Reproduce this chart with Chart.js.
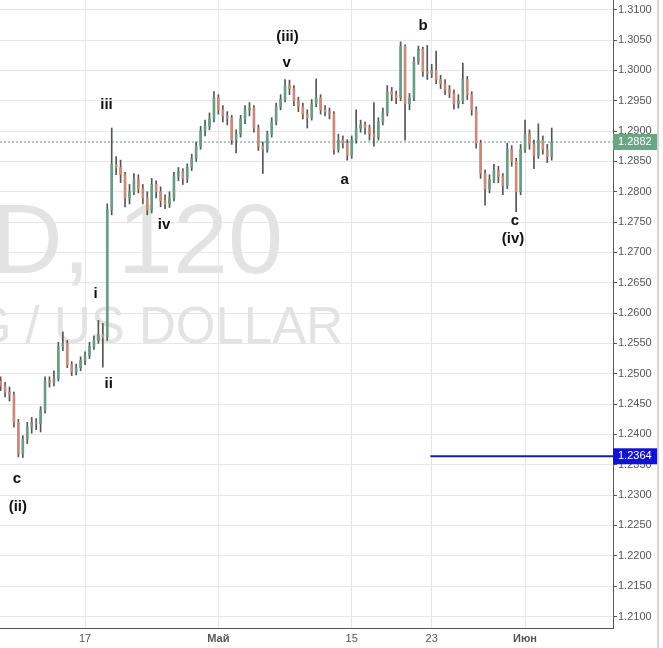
<!DOCTYPE html>
<html>
<head>
<meta charset="utf-8">
<script src="https://cdn.jsdelivr.net/npm/chart.js@4.4.1/dist/chart.umd.min.js"></script>
<style>
  html, body { margin: 0; padding: 0; background: #fff; }
</style>
</head>
<body>
<canvas id="chart" width="663" height="648"></canvas>
<script>
// GBPUSD, 8h candles; x is counted in trading days from 17 Apr
const firstDay = -6.33;
const barsPerDay = 3;
const firstOpen = 1.2488;

const close = [
  1.2480, 1.2470, 1.2465, 1.2420, 1.2368, 1.2392, 1.2412, 1.2420, 1.2418, 1.2440,
  1.2488, 1.2486, 1.2492, 1.2545, 1.2550, 1.2515, 1.2503, 1.2510, 1.2522, 1.2530,
  1.2545, 1.2555, 1.2565, 1.2560, 1.2770, 1.2845, 1.2840, 1.2828, 1.2790, 1.2800,
  1.2820, 1.2805, 1.2790, 1.2770, 1.2812, 1.2800, 1.2785, 1.2780, 1.2790, 1.2825,
  1.2833, 1.2822, 1.2840, 1.2855, 1.2875, 1.2900, 1.2908, 1.2920, 1.2955, 1.2935,
  1.2925, 1.2922, 1.2885, 1.2895, 1.2920, 1.2935, 1.2938, 1.2905, 1.2875, 1.2870,
  1.2895, 1.2915, 1.2940, 1.2952, 1.2975, 1.2970, 1.2950, 1.2940, 1.2928, 1.2922,
  1.2945, 1.2955, 1.2935, 1.2932, 1.2928, 1.2870, 1.2885, 1.2880, 1.2860, 1.2885,
  1.2905, 1.2910, 1.2905, 1.2895, 1.2890, 1.2915, 1.2930, 1.2965, 1.2960, 1.2955,
  1.3040, 1.2945, 1.2955, 1.3015, 1.3035, 1.2998, 1.2995, 1.3000, 1.2985, 1.2978,
  1.2968, 1.2962, 1.2945, 1.2950, 1.2985, 1.2960, 1.2935, 1.2880, 1.2830, 1.2805,
  1.2820, 1.2835, 1.2825, 1.2810, 1.2870, 1.2850, 1.2800, 1.2870, 1.2895, 1.2878,
  1.2860, 1.2885, 1.2870, 1.2858, 1.2882
];
const high = [
  1.2495, 1.2486, 1.2478, 1.2470, 1.2425, 1.2398, 1.2420, 1.2428, 1.2426, 1.2446,
  1.2495, 1.2495, 1.2505, 1.2552, 1.2569, 1.2555, 1.2520, 1.2516, 1.2528, 1.2536,
  1.2552, 1.2562, 1.2588, 1.2583, 1.2780, 1.2905, 1.2858, 1.2852, 1.2832, 1.2812,
  1.2830, 1.2828, 1.2812, 1.2800, 1.2822, 1.2818, 1.2808, 1.2795, 1.2800, 1.2832,
  1.2840, 1.2838, 1.2846, 1.2862, 1.2882, 1.2908, 1.2918, 1.2930, 1.2965, 1.2960,
  1.2942, 1.2932, 1.2926, 1.2902, 1.2926, 1.2942, 1.2947, 1.2942, 1.2910, 1.2882,
  1.2900, 1.2922, 1.2946, 1.2960, 1.2985, 1.2984, 1.2975, 1.2956, 1.2946, 1.2935,
  1.2952, 1.2986, 1.2960, 1.2942, 1.2938, 1.2932, 1.2895, 1.2892, 1.2886, 1.2892,
  1.2935, 1.2918, 1.2915, 1.2910, 1.2947, 1.2922, 1.2938, 1.2975, 1.2972, 1.2966,
  1.3047, 1.3042, 1.2962, 1.3022, 1.3040, 1.3038, 1.3041, 1.3010, 1.3032, 1.2992,
  1.2985, 1.2975, 1.2968, 1.2960, 1.3012, 1.2990, 1.2965, 1.2940, 1.2885, 1.2836,
  1.2828, 1.2845, 1.2842, 1.2830, 1.2880, 1.2876, 1.2855, 1.2878, 1.2918, 1.2902,
  1.2885, 1.2912, 1.2892, 1.2878, 1.2905
];
const low = [
  1.2472, 1.2462, 1.2455, 1.2412, 1.2363, 1.2362, 1.2385, 1.2402, 1.2408, 1.2404,
  1.2435, 1.2478, 1.2480, 1.2488, 1.2538, 1.2510, 1.2497, 1.2498, 1.2505, 1.2515,
  1.2525, 1.2540, 1.2550, 1.2511, 1.2555, 1.2762, 1.2828, 1.2815, 1.2775, 1.2780,
  1.2795, 1.2798, 1.2780, 1.2762, 1.2765, 1.2790, 1.2775, 1.2772, 1.2774, 1.2785,
  1.2818, 1.2812, 1.2815, 1.2835, 1.2850, 1.2870, 1.2892, 1.2902, 1.2915, 1.2928,
  1.2915, 1.2910, 1.2878, 1.2864, 1.2890, 1.2912, 1.2925, 1.2898, 1.2868, 1.2830,
  1.2865, 1.2890, 1.2910, 1.2935, 1.2948, 1.2960, 1.2942, 1.2932, 1.2920, 1.2905,
  1.2918, 1.2940, 1.2928, 1.2925, 1.2920, 1.2862, 1.2865, 1.2872, 1.2852, 1.2855,
  1.2880, 1.2898, 1.2895, 1.2885, 1.2875, 1.2885, 1.2910, 1.2925, 1.2950, 1.2945,
  1.2950, 1.2885, 1.2935, 1.2950, 1.3010, 1.2990, 1.2985, 1.2988, 1.2978, 1.2970,
  1.2960, 1.2955, 1.2936, 1.2938, 1.2945, 1.2952, 1.2926, 1.2872, 1.2822, 1.2778,
  1.2798, 1.2815, 1.2815, 1.2795, 1.2805, 1.2842, 1.2767, 1.2795, 1.2865, 1.2870,
  1.2838, 1.2855, 1.2862, 1.2848, 1.2852
];

const tickDays = [0, 10, 20, 26, 33];
const tickLabels = ['17', 'Май', '15', '23', 'Июн'];

const lastPrice = 1.2882;
const levelPrice = 1.2364;
const levelFrom = 25.9;

const waveText = ['iii', '(iii)', 'v', 'b', 'a', 'iv', 'c', '(iv)', 'i', 'ii', 'c', '(ii)'];
const waveDay = [1.61, 15.19, 15.13, 25.35, 19.47, 5.93, 32.25, 32.1, 0.8, 1.78, -5.1, -5.04];
const wavePrice = [1.2944, 1.3055, 1.3012, 1.3074, 1.2819, 1.2745, 1.2752, 1.2722, 1.2631, 1.2483, 1.2327, 1.2280];

const xMin = -6.375, xMax = 39.6;
const font = 'Liberation Sans, Arial, sans-serif';

const open = close.map((c, i) => i === 0 ? firstOpen : close[i - 1]);
const xs = close.map((c, i) => firstDay + i / barsPerDay);

const watermark = {
  id: 'watermark',
  beforeDatasetsDraw(chart) {
    const { ctx, chartArea } = chart;
    ctx.save();
    ctx.beginPath();
    ctx.rect(chartArea.left, chartArea.top, chartArea.width, chartArea.height);
    ctx.clip();
    ctx.fillStyle = '#e3e3e3';
    ctx.textAlign = 'right';
    ctx.textBaseline = 'alphabetic';
    ctx.font = '99px ' + font;
    ctx.fillText('GBPUSD, 120', 283, 273);
    ctx.font = '51px ' + font;
    ctx.fillText('POUND STERLING / US DOLLAR', 343, 343);
    ctx.restore();
  }
};

const waves = {
  id: 'waves',
  afterDatasetsDraw(chart) {
    const { ctx, scales } = chart;
    ctx.save();
    ctx.fillStyle = '#111';
    ctx.font = 'bold 15px ' + font;
    ctx.textAlign = 'center';
    ctx.textBaseline = 'middle';
    waveText.forEach((t, i) => {
      ctx.fillText(t, scales.x.getPixelForValue(waveDay[i]), scales.y.getPixelForValue(wavePrice[i]));
    });
    ctx.restore();
  }
};

const priceBoxes = {
  id: 'priceBoxes',
  afterDraw(chart) {
    const { ctx, chartArea, scales } = chart;
    ctx.save();
    [[lastPrice, '#6aa584'], [levelPrice, '#1212d6']].forEach(([v, col]) => {
      const py = scales.y.getPixelForValue(v);
      ctx.fillStyle = col;
      ctx.fillRect(chartArea.right, py - 8, 44, 16);
      ctx.fillStyle = '#fff';
      ctx.font = '11px ' + font;
      ctx.textAlign = 'left';
      ctx.textBaseline = 'middle';
      ctx.fillText(v.toFixed(4), chartArea.right + 5, py);
    });
    ctx.strokeStyle = '#d4d4d4';
    ctx.lineWidth = 2;
    ctx.beginPath();
    ctx.moveTo(658, 0);
    ctx.lineTo(658, 648);
    ctx.stroke();
    ctx.restore();
  }
};

new Chart(document.getElementById('chart'), {
  type: 'bar',
  data: {
    datasets: [
      {
        type: 'line',
        data: [{ x: xMin, y: lastPrice }, { x: xMax, y: lastPrice }],
        borderColor: '#5c9a7a',
        borderWidth: 1,
        borderDash: [2, 2],
        pointRadius: 0,
        order: 4
      },
      {
        type: 'line',
        data: [{ x: levelFrom, y: levelPrice }, { x: xMax, y: levelPrice }],
        borderColor: '#1c1caa',
        borderWidth: 2,
        pointRadius: 0,
        order: 3
      },
      {
        label: 'wick',
        data: xs.map((x, i) => ({ x: x, y: [low[i], high[i]] })),
        backgroundColor: '#555',
        barThickness: 1,
        grouped: false,
        order: 2
      },
      {
        label: 'body',
        data: xs.map((x, i) => ({ x: x, y: [open[i], close[i]] })),
        backgroundColor: (c) => close[c.dataIndex] >= open[c.dataIndex] ? '#6b9c85' : '#c88a7a',
        barThickness: 2,
        minBarLength: 1,
        grouped: false,
        order: 1
      }
    ]
  },
  options: {
    responsive: false,
    animation: false,
    layout: { padding: 0 },
    plugins: {
      legend: { display: false },
      tooltip: { enabled: false }
    },
    scales: {
      x: {
        type: 'linear',
        min: xMin,
        max: xMax,
        offset: false,
        grid: { offset: false, color: '#e6e6e6', drawTicks: false },
        border: { color: '#555' },
        ticks: {
          padding: 4,
          color: '#555',
          font: (c) => ({ family: font, size: 11, weight: /\d/.test(tickLabels[c.index] || '') ? 'normal' : 'bold' }),
          callback: (v) => tickLabels[tickDays.indexOf(v)]
        },
        afterBuildTicks: (s) => { s.ticks = tickDays.map(v => ({ value: v })); },
        afterFit: (s) => { s.height = 20; s.paddingLeft = 0; s.paddingRight = 0; }
      },
      y: {
        position: 'right',
        min: 1.2081,
        max: 1.3116,
        grid: { color: '#e6e6e6', tickLength: 4, tickColor: '#555' },
        border: { color: '#555' },
        ticks: {
          stepSize: 0.005,
          includeBounds: false,
          padding: 1,
          color: '#555',
          font: { family: font, size: 11 },
          callback: (v) => v.toFixed(4)
        },
        afterFit: (s) => { s.width = 50; s.paddingTop = 0; s.paddingBottom = 0; }
      }
    }
  },
  plugins: [watermark, waves, priceBoxes]
});
</script>
</body>
</html>
